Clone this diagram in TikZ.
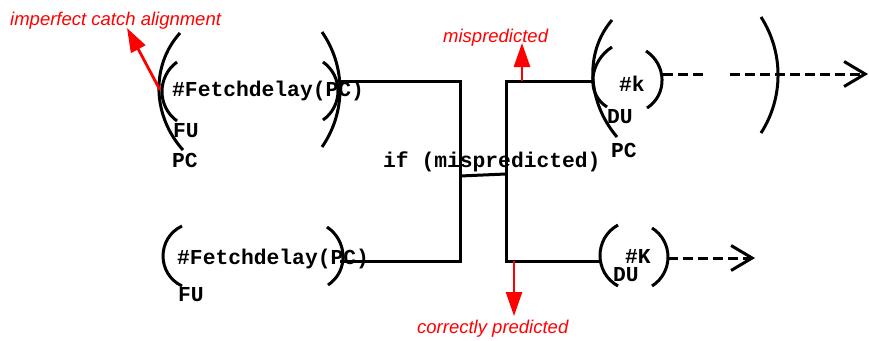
\documentclass[tikz,border=0pt]{standalone}
\usepackage{fontspec}
\setmainfont{Liberation Sans}
\newfontfamily\monob{Liberation Mono}
\usetikzlibrary{arrows.meta}
\begin{document}
\begin{tikzpicture}[x=1pt,y=-1pt,
  code/.style={font=\monob\bfseries\fontsize{21.3}{24}\selectfont, inner sep=0pt, anchor=base west},
  note/.style={font=\itshape\fontsize{18.5}{22}\selectfont, text=red, inner sep=0pt, anchor=base west},
  wire/.style={line width=3pt, line join=miter},
  brk/.style={line width=3pt},
  redarrow/.style={red, line width=2.8pt, -{Triangle[length=24pt,width=16pt]}},
  dashline/.style={line width=3pt, dash pattern=on 10pt off 5pt},
  dasharrow/.style={dashline, -{Straight Barb[length=21pt,width=25pt,line width=3pt]}}]
\useasboundingbox (0,0) rectangle (869,340);

% texts
\node[code] (fd1) at (172,96) {\#Fetchdelay(PC)};
\node[code] (fu1) at (173,137) {FU};
\node[code] (pc1) at (172,167) {PC};
\node[code] (ifm) at (383,167) {if (mispredicted)};
\node[code] (k1) at (619,91) {\#k};
\node[code] (du1) at (607,123) {DU};
\node[code] (pc2) at (611,157) {PC};
\node[code] (fd2) at (177,264) {\#Fetchdelay(PC)};
\node[code] (fu2) at (178,301) {FU};
\node[code] (k2) at (625,263) {\#K};
\node[code] (du2) at (613,281) {DU};

\node[note] (imp) at (10,25) {imperfect catch alignment};
\node[note] (mis) at (443,42) {mispredicted};
\node[note] (cor) at (417,333) {correctly predicted};

% brackets (circular-like arcs)
\draw[brk] (180,33) .. controls (150,66.2) and (153,116.8) .. (183,150);
\draw[brk] (177,62) .. controls (157,76.6) and (157,106.4) .. (177,121);
\draw[brk] (322,32) .. controls (346,66.6) and (346,112.4) .. (322,147);
\draw[brk] (323,62) .. controls (343,76.2) and (343,105.8) .. (323,120);

\draw[brk] (612,20) .. controls (583.3,53.7) and (588.3,103.3) .. (617,137);
\draw[brk] (612,47) .. controls (590,61) and (585,93) .. (607,107);
\draw[brk] (646,51) .. controls (666.7,64.4) and (667.7,94.6) .. (647,108);
\draw[brk] (761,17) .. controls (783.7,52.3) and (783.7,97.7) .. (761,133);

\draw[brk] (182,226) .. controls (156.7,238) and (156.7,274) .. (182,286);
\draw[brk] (327,227) .. controls (347.7,240.8) and (348.7,271.2) .. (328,285);

\draw[brk] (618,225) .. controls (594,238.3) and (594,272.7) .. (618,286);
\draw[brk] (652,228) .. controls (673.3,241.5) and (673.3,272.5) .. (652,286);

% wire coordinates
\coordinate (tl) at (340,81);
\coordinate (tlc) at (460,81);
\coordinate (bl) at (340,261);
\coordinate (blc) at (460,261);
\coordinate (mL) at (460,176);
\coordinate (mR) at (506,174);
\coordinate (trc) at (506,81);
\coordinate (tr) at (593,81);
\coordinate (brc) at (506,261);
\coordinate (br) at (600,261);

\draw[wire] (tl) -- (tlc) -- (blc) -- (bl);
\draw[wire] (mL) -- (mR);
\draw[wire] (tr) -- (trc) -- (brc) -- (br);

% red arrows
\coordinate (rm0) at (522,81);
\coordinate (rm1) at (522,43);
\coordinate (rc0) at (514,261);
\coordinate (rc1) at (514,316);
\coordinate (ri0) at (160,90);
\coordinate (ri1) at (127,28);
\draw[redarrow] (rm0) -- (rm1);
\draw[redarrow] (rc0) -- (rc1);
\draw[redarrow] (ri0) -- (ri1);

% dashed
\coordinate (d1s) at (663,74);
\coordinate (d1e) at (703,74);
\coordinate (d2s) at (730,74);
\coordinate (d2e) at (868,74);
\coordinate (d3s) at (668,258);
\coordinate (d3e) at (755,258);
\draw[dashline] (d1s) -- (d1e);
\draw[dasharrow] (d2s) -- (d2e);
\draw[dasharrow] (d3s) -- (d3e);
\end{tikzpicture}
\end{document}
